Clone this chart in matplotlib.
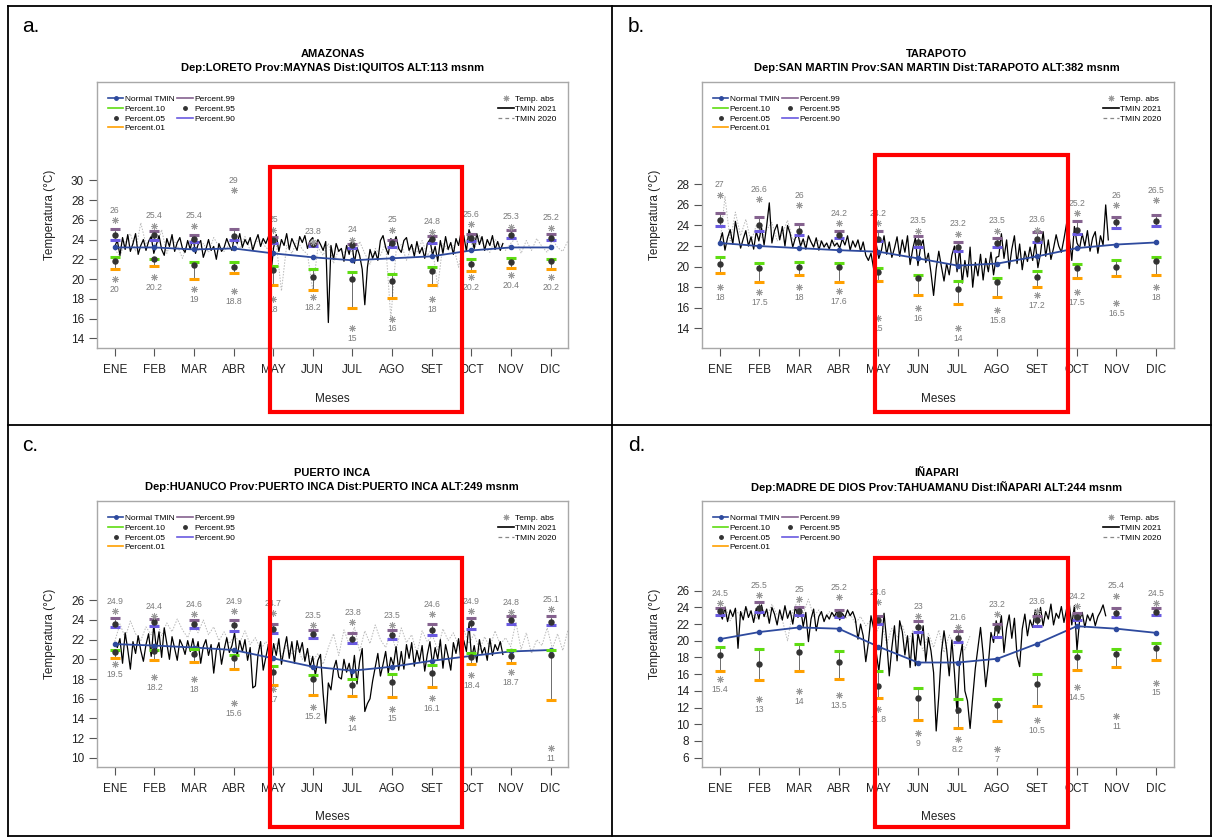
import matplotlib
matplotlib.use('Agg')
import matplotlib.pyplot as plt
from matplotlib.lines import Line2D
from matplotlib.patches import Rectangle
import numpy as np

plt.rcParams['font.family'] = ['Liberation Sans', 'DejaVu Sans']

W, H = 1213, 838
MONTHS = ['ENE', 'FEB', 'MAR', 'ABR', 'MAY', 'JUN', 'JUL', 'AGO', 'SET', 'OCT', 'NOV', 'DIC']

BLUE = '#2e4a9e'
MAUVE = '#85628f'
VIOLET = '#6a5ae0'
GREEN = '#5fdc12'
ORANGE = '#ffa000'
DOT = '#333333'
ABS = '#9a9a9a'

# ---------------- a. AMAZONAS (Iquitos) ----------------
a_normal = [23.2, 23.2, 23.0, 23.1, 22.6, 22.2, 21.9, 22.1, 22.3, 22.9, 23.2, 23.2]
a_p99 = [25.1, 24.9, 24.5, 25.1, 24.3, 23.6, 23.5, 24.0, 24.4, 24.6, 25.0, 24.6]
a_p95 = [24.5, 24.5, 24.1, 24.4, 24.0, 23.5, 23.4, 23.7, 24.05, 24.2, 24.5, 24.2]
a_p90 = [24.0, 24.0, 23.8, 24.0, 23.7, 23.3, 23.1, 23.2, 23.6, 23.9, 24.2, 24.0]
a_p10 = [22.2, 22.0, 21.7, 21.7, 21.3, 21.0, 20.7, 20.5, 21.2, 22.0, 22.1, 22.0]
a_p05 = [21.8, 22.0, 21.4, 21.2, 20.9, 20.2, 20.0, 19.8, 20.8, 21.5, 21.7, 21.8]
a_p01 = [21.0, 21.3, 20.0, 20.6, 19.4, 18.9, 17.1, 18.1, 19.4, 20.8, 21.1, 21.0]
a_absmax = [26, 25.4, 25.4, 29, 25, 23.8, 24, 25, 24.8, 25.6, 25.3, 25.2]
a_absmin = [20, 20.2, 19, 18.8, 18, 18.2, 15, 16, 18, 20.2, 20.4, 20.2]
a_tmin2021 = [
    23.3, 23.9, 22.4, 24.2, 23.0, 24.5, 22.8, 23.6, 24.6, 22.5, 23.4, 24.0, 22.9, 23.8, 24.3,
    22.6, 23.5, 24.4, 23.0, 22.4, 24.1, 23.3, 24.5, 22.8, 23.7, 24.2, 23.1, 22.7, 23.9, 23.0,
    24.3, 22.6, 23.5, 23.9, 22.2, 23.0, 24.0, 22.9, 23.3, 22.0, 23.6, 22.8, 23.2, 24.1, 23.4,
    22.9, 24.4, 23.6, 24.6, 23.2, 24.0, 23.5, 24.2, 22.9, 23.8, 24.5, 23.3, 24.1, 23.6, 24.3,
    20.6, 23.2, 24.5, 22.8, 24.0, 23.4, 24.6, 23.0, 24.1, 23.5, 22.9, 24.3, 23.7, 24.4, 23.1,
    23.9, 24.2, 23.3, 24.0, 23.5, 22.9, 23.8, 15.6, 23.4, 22.0, 23.6, 22.8, 23.1, 21.8, 23.4,
    22.5, 23.8, 21.6, 23.2, 22.4, 21.0, 17.4, 21.2, 23.0, 22.1, 22.8, 21.9, 23.9, 24.4, 23.2,
    22.5, 24.1, 23.6, 24.3, 23.1, 22.7, 23.9, 24.2, 22.9, 23.5, 22.3, 23.8, 22.6, 23.2, 22.1,
    23.6, 24.0, 22.4, 23.3, 21.8, 23.9, 22.6, 24.3, 23.0, 23.7, 22.5, 24.1, 23.4, 24.8, 24.4,
    22.8, 25.0, 24.2, 23.1, 24.6, 23.5, 24.3, 22.9, 24.0, 23.4, 24.4, 23.0, 23.8, 22.9, 23.6,
]
a_tmin2020 = [
    23.0, 22.3, 23.8, 24.6, 22.8, 25.7, 23.5, 24.4,
    23.2, 25.0, 22.6, 24.1, 23.4, 22.1, 23.8,
    24.0, 22.9, 23.6, 22.7, 24.2, 23.3, 22.8, 23.5,
    23.9, 23.1, 24.3, 22.9, 23.7, 24.0, 23.2,
    22.8, 23.6, 18.8, 23.4, 22.6, 23.9, 23.0, 22.5,
    18.9, 23.2, 22.4, 23.6, 21.6, 23.0, 22.7,
    23.4, 22.1, 23.8, 22.6, 21.5, 23.1, 22.4, 23.6,
    16.0, 22.8, 23.5, 21.9, 23.3, 22.7, 23.9, 22.4,
    23.1, 19.2, 23.6, 22.9, 23.4, 21.2, 23.8,
    24.1, 23.0, 24.4, 23.2, 22.7, 24.0, 23.5, 22.9,
    23.6, 24.2, 22.6, 23.9, 22.9, 24.1, 23.3,
    22.7, 24.0, 23.2, 22.8, 23.9, 23.4,
]

# ---------------- b. TARAPOTO ----------------
b_normal = [22.3, 22.0, 21.8, 21.6, 21.45, 20.8, 20.1, 20.3, 21.0, 21.8, 22.15, 22.35]
b_p99 = [25.2, 24.85, 24.1, 23.45, 23.45, 23.0, 22.35, 22.8, 23.35, 24.45, 24.8, 25.0]
b_p95 = [24.5, 24.0, 23.45, 23.05, 22.65, 22.4, 21.9, 22.25, 22.7, 23.55, 24.3, 24.45]
b_p90 = [23.95, 23.5, 23.05, 22.75, 22.5, 21.95, 21.5, 21.9, 22.35, 23.15, 23.8, 23.95]
b_p10 = [20.9, 20.4, 20.45, 20.4, 19.9, 19.2, 18.6, 18.9, 19.6, 20.3, 20.65, 20.95]
b_p05 = [20.25, 19.9, 20.0, 20.0, 19.5, 18.9, 17.8, 18.5, 19.0, 19.85, 20.0, 20.5]
b_p01 = [19.35, 18.5, 19.15, 18.5, 18.6, 17.25, 16.35, 17.0, 18.0, 18.9, 19.1, 19.2]
b_absmax = [27, 26.6, 26, 24.2, 24.2, 23.5, 23.2, 23.5, 23.6, 25.2, 26, 26.5]
b_absmin = [18, 17.5, 18, 17.6, 15, 16, 14, 15.8, 17.2, 17.5, 16.5, 18]
b_tmin2021 = [
    22.4, 23.3, 21.6, 22.8, 23.6, 22.2, 24.4, 23.1, 21.8, 22.7, 23.5, 22.0, 22.9, 21.7, 23.4,
    22.5, 23.8, 22.1, 24.0, 26.2, 22.3, 23.5, 24.1, 22.6, 23.9, 22.0, 24.0, 23.2, 21.9, 22.8,
    23.1, 22.0, 22.7, 21.7, 23.0, 22.4, 21.9, 22.8, 21.6, 22.5, 21.9, 22.3, 21.7, 22.6, 22.0,
    22.3, 21.8, 22.7, 22.1, 23.0, 21.6, 22.5, 21.9, 22.6, 21.5, 22.4, 21.1, 20.6, 21.3, 19.8,
    22.2, 20.8, 21.6, 23.0, 21.2, 22.4, 20.9, 21.8, 22.9, 21.0, 22.6, 21.4, 23.0, 20.2, 21.7,
    22.8, 20.1, 21.9, 22.6, 20.4, 21.3, 19.4, 17.2, 19.8, 21.5, 20.0, 18.6, 20.3, 19.2, 21.1,
    22.0, 19.5, 21.8, 18.4, 20.6, 19.0, 21.9, 18.0, 20.4, 19.1, 21.2, 18.7, 20.8, 19.5, 21.4,
    19.2, 20.9, 21.0, 23.2, 20.8, 22.6, 19.8, 21.7, 23.0, 20.3, 22.2, 19.7, 21.5, 20.5, 21.9,
    20.6, 22.4, 19.9, 21.3, 23.4, 21.0, 22.6, 20.7, 21.8, 23.1, 22.0, 21.4, 22.7, 24.2, 22.9,
    20.6, 23.9, 22.3, 21.8, 23.2, 22.0, 23.5, 21.5, 22.8, 23.4, 21.3, 23.0, 22.1, 26.0, 22.6,
]
b_tmin2020 = [
    22.0, 26.8, 22.5, 25.3, 23.0, 24.6, 22.4, 24.0,
    22.8, 23.6, 24.3, 22.5, 23.2, 24.5, 22.6,
    23.0, 22.1, 22.8, 21.9, 22.6, 22.2, 21.8, 22.5, 21.6,
]

# ---------------- c. PUERTO INCA ----------------
c_normal = [21.55, 21.4, 21.2, 20.95, 20.1, 19.25, 18.85, 19.25, 19.85, 20.35, 20.8, 20.95]
c_p99 = [24.15, 24.1, 24.0, 24.0, 23.6, 23.0, 22.65, 23.0, 23.6, 24.15, 24.45, 24.4]
c_p95 = [23.6, 23.8, 23.6, 23.5, 23.05, 22.6, 22.1, 22.5, 23.0, 23.65, 24.0, 23.8]
c_p90 = [23.25, 23.4, 23.15, 22.9, 22.65, 22.15, 21.65, 22.1, 22.5, 23.1, 23.6, 23.5]
c_p10 = [20.95, 20.95, 21.0, 20.45, 19.35, 18.4, 18.0, 18.5, 19.4, 20.6, 20.95, 20.95]
c_p05 = [20.7, 20.8, 20.5, 20.1, 18.7, 18.05, 17.4, 17.7, 18.6, 20.2, 20.35, 20.45]
c_p01 = [20.15, 19.9, 19.75, 19.0, 17.4, 16.4, 16.25, 16.15, 17.2, 19.5, 19.6, 15.85]
c_absmax = [24.9, 24.4, 24.6, 24.9, 24.7, 23.5, 23.8, 23.5, 24.6, 24.9, 24.8, 25.1]
c_absmin = [19.5, 18.2, 18, 15.6, 17, 15.2, 14, 15, 16.1, 18.4, 18.7, 11]
c_tmin2021 = [
    21.6, 21.2, 22.1, 19.6, 22.7, 21.0, 19.0, 21.8, 20.6, 22.4, 20.9, 19.8, 21.5, 22.6, 20.3,
    23.5, 21.0, 22.8, 20.2, 23.2, 21.6, 20.0, 22.3, 21.1, 19.9, 22.0, 21.4, 20.5, 21.9, 20.8,
    22.1, 20.6, 21.8, 19.6, 21.3, 22.0, 20.4, 21.5, 18.6, 20.9, 21.7, 19.5, 21.0, 22.2, 20.7,
    21.4, 22.7, 20.3, 21.9, 20.8, 22.0, 19.9, 21.2, 17.1, 17.3, 20.5, 21.8, 18.9, 20.2, 21.5,
    19.3, 21.6, 20.4, 22.1, 19.5, 21.0, 22.3, 20.1, 21.8, 19.6, 21.9, 20.7, 21.7, 19.8, 21.1,
    19.2, 20.3, 18.4, 19.9, 20.5, 16.5, 13.5, 17.6, 16.9, 19.0, 19.9, 18.2, 18.0, 20.0, 18.7,
    19.6, 18.1, 20.4, 17.5, 19.8, 21.1, 14.7, 15.5, 16.0, 17.8, 19.2, 20.6, 18.3, 19.5, 20.8,
    18.6, 20.2, 19.4, 21.3, 18.9, 20.8, 19.0, 21.5, 20.1, 21.7, 19.3, 20.9, 19.8, 21.4, 18.8,
    20.5, 21.8, 19.4, 21.2, 20.0, 22.0, 19.1, 21.5, 20.3, 18.9, 21.7, 20.6, 22.1, 19.6, 21.9,
    20.8, 23.6, 20.1, 21.4, 19.7, 22.0, 20.6, 21.2, 19.9, 22.1, 20.4, 21.5, 20.9, 21.8, 20.5,
]
c_tmin2020 = [
    21.8, 23.6, 22.2, 23.9, 22.6, 21.9, 23.3, 22.5,
    24.0, 22.4, 23.7, 22.8, 24.1, 23.0, 22.2,
    23.6, 22.7, 24.0, 22.5, 23.3, 21.9, 22.8, 21.6,
    22.4, 21.7, 22.9, 21.5, 22.2, 21.0, 21.8,
    20.9, 21.6, 20.3, 21.4, 20.5, 21.2, 20.0, 20.8,
    19.8, 20.6, 19.5, 21.2, 22.6, 20.4, 23.0,
    21.5, 23.3, 20.8, 22.9, 21.6, 23.5, 22.0, 21.2,
    22.8, 20.9, 23.2, 21.7, 22.5, 20.6, 22.9, 21.8,
    22.4, 21.0, 23.1, 21.9, 22.7, 21.4, 23.0,
    21.6, 22.6, 20.9, 22.3, 21.2, 22.9, 21.5, 22.2,
    21.3, 23.8, 21.0, 22.7, 20.6, 22.0, 21.4,
    23.2, 21.1, 22.6, 20.9, 23.0, 21.8,
]

# ---------------- d. IÑAPARI ----------------
d_normal = [20.2, 21.05, 21.6, 21.45, 19.3, 17.4, 17.4, 17.85, 19.65, 21.75, 21.45, 20.95]
d_p99 = [23.95, 24.6, 24.0, 23.7, 23.0, 22.35, 21.2, 22.0, 23.0, 23.3, 23.95, 23.95]
d_p95 = [23.55, 23.95, 23.55, 23.2, 22.5, 21.6, 20.3, 21.5, 22.55, 22.9, 23.35, 23.45]
d_p90 = [23.05, 23.4, 23.1, 22.8, 22.0, 21.0, 19.8, 20.4, 21.8, 22.5, 22.8, 23.05]
d_p10 = [19.2, 19.0, 19.6, 18.8, 16.4, 14.4, 13.0, 13.0, 16.0, 18.8, 19.0, 19.75]
d_p05 = [18.3, 17.2, 18.7, 17.5, 14.6, 13.1, 11.7, 12.3, 14.85, 18.0, 18.45, 19.1]
d_p01 = [16.4, 15.3, 16.4, 15.45, 13.2, 10.5, 9.5, 10.35, 12.15, 16.45, 16.85, 17.7]
d_absmax = [24.5, 25.5, 25, 25.2, 24.6, 23, 21.6, 23.2, 23.6, 24.2, 25.4, 24.5]
d_absmin = [15.4, 13, 14, 13.5, 11.8, 9, 8.2, 7, 10.5, 14.5, 11, 15]
d_tmin2021 = [
    23.4, 22.6, 24.0, 22.3, 23.7, 22.9, 23.9, 19.1, 23.5, 22.5, 24.1, 22.8, 23.6, 22.2, 23.9,
    22.6, 24.3, 22.9, 23.8, 22.1, 24.0, 23.2, 21.9, 23.7, 22.5, 24.2, 22.7, 23.6, 22.0, 24.1,
    22.8, 23.9, 21.7, 23.4, 19.9, 22.6, 23.8, 21.2, 22.9, 23.5, 22.3, 23.1, 22.6, 23.4, 22.9,
    23.6, 22.5, 23.3, 22.8, 23.7, 23.0, 23.5, 22.6, 20.2, 22.0, 20.6, 17.5, 19.8, 23.0, 21.5,
    18.6, 16.4, 19.4, 23.3, 20.0, 15.8, 19.2, 21.8, 17.6, 22.4, 21.1, 18.3, 20.6, 16.8, 20.9,
    17.0, 20.9, 19.5, 21.8, 17.5, 20.4, 18.8, 16.2, 9.2, 13.4, 18.6, 21.2, 19.0, 15.8, 20.1,
    16.2, 11.3, 17.8, 19.6, 14.0, 12.8, 9.5, 13.2, 16.7, 19.1, 21.6, 18.4, 14.5, 17.2, 21.0,
    19.8, 22.4, 20.9, 23.0, 18.6, 21.5, 23.1, 20.3, 22.7, 18.2, 16.9, 21.4, 23.2, 20.6, 22.5,
    21.6, 23.7, 22.1, 24.0, 21.8, 23.5, 22.6, 24.4, 21.9, 23.3, 22.7, 24.1, 22.2, 23.8, 24.5,
    21.9, 24.2, 18.9, 22.5, 23.4, 21.6, 23.1, 22.4, 23.3, 21.8, 22.9, 23.5, 24.3, 23.0,
]
d_tmin2020 = [
    23.0, 24.2, 22.4, 23.8, 22.9, 24.0, 23.3, 22.6,
    23.9, 22.8, 24.4, 23.1, 22.5, 20.0, 23.6,
    24.8, 23.2, 25.0, 22.9, 23.7, 22.4, 23.5, 22.7,
    23.4, 22.6, 23.2, 22.1, 22.9, 21.8, 22.5,
    21.0, 22.3, 19.6, 21.5, 20.4, 21.9, 19.8, 21.2,
    20.5, 18.8, 20.9, 19.2, 21.3, 18.6, 20.7,
    19.4, 21.0, 18.9, 20.6,
]

DAYS_PER_MONTH = 30.42

PANELS = [
    dict(letter='a.', letter_xy=(22, 31.7), box=(97.3, 81.7, 568.0, 348.3), ylim=(12.99, 39.98),
         yticks=range(14, 31, 2), title='AMAZONAS',
         sub='Dep:LORETO Prov:MAYNAS Dist:IQUITOS ALT:113 msnm', title_xy=(332.6, 54.3),
         red=(269.6, 166.7, 461.8, 411.7),
         data=(a_normal, a_p99, a_p95, a_p90, a_p10, a_p05, a_p01, a_absmax, a_absmin, a_tmin2021, a_tmin2020)),
    dict(letter='b.', letter_xy=(628, 31.7), box=(702.3, 81.7, 1173.5, 348.3), ylim=(12.06, 37.98),
         yticks=range(14, 29, 2), title='TARAPOTO',
         sub='Dep:SAN MARTIN Prov:SAN MARTIN Dist:TARAPOTO ALT:382 msnm', title_xy=(937, 54.3),
         red=(875.4, 155.0, 1067.7, 412.3),
         data=(b_normal, b_p99, b_p95, b_p90, b_p10, b_p05, b_p01, b_absmax, b_absmin, b_tmin2021, b_tmin2020)),
    dict(letter='c.', letter_xy=(22, 450.7), box=(97.3, 500.7, 568.0, 766.7), ylim=(9.09, 36.12),
         yticks=range(10, 27, 2), title='PUERTO INCA',
         sub='Dep:HUANUCO Prov:PUERTO INCA Dist:PUERTO INCA ALT:249 msnm', title_xy=(332, 473.3),
         red=(269.6, 557.7, 461.8, 826.7),
         data=(c_normal, c_p99, c_p95, c_p90, c_p10, c_p05, c_p01, c_absmax, c_absmin, c_tmin2021, c_tmin2020)),
    dict(letter='d.', letter_xy=(628, 450.7), box=(702.3, 500.7, 1173.5, 766.7), ylim=(4.92, 36.78),
         yticks=range(6, 27, 2), title='IÑAPARI',
         sub='Dep:MADRE DE DIOS Prov:TAHUAMANU Dist:IÑAPARI ALT:244 msnm', title_xy=(937, 473.3),
         red=(875.4, 557.7, 1067.7, 827.3),
         data=(d_normal, d_p99, d_p95, d_p90, d_p10, d_p05, d_p01, d_absmax, d_absmin, d_tmin2021, d_tmin2020)),
]


def fx(px):
    return px / W


def fy(py):
    return 1 - py / H


def draw_panel(ax, data):
    normal, p99, p95, p90, p10, p05, p01, absmax, absmin, t2021, t2020 = data
    xm = np.arange(12)
    x20 = np.arange(len(t2020)) * 4 / DAYS_PER_MONTH
    x21 = np.arange(len(t2021)) * 2 / DAYS_PER_MONTH

    ax.plot(x20, t2020, color='#b8b8b8', lw=0.7, ls=(0, (1.5, 1.5)), zorder=1)
    ax.plot(x21, t2021, color='black', lw=0.9, zorder=2)
    ax.plot(xm, normal, color=BLUE, lw=1.3, marker='o', ms=3, zorder=3)

    ax.vlines(xm, p01, p10, color='#555555', lw=0.6, zorder=4)
    ax.vlines(xm, p90, p99, color='#555555', lw=0.6, zorder=4)
    for vals, col in [(p99, MAUVE), (p90, VIOLET), (p10, GREEN), (p01, ORANGE)]:
        ax.plot(xm, vals, ls='none', marker='_', ms=6.5, mew=2.2, color=col, zorder=5)
    ax.plot(xm, p95, ls='none', marker='o', ms=3.6, color=DOT, zorder=6)
    ax.plot(xm, p05, ls='none', marker='o', ms=3.6, color=DOT, zorder=6)

    ax.plot(xm, absmax, ls='none', marker=(8, 2, 0), ms=5, mew=0.6, color=ABS, zorder=6)
    ax.plot(xm, absmin, ls='none', marker=(8, 2, 0), ms=5, mew=0.6, color=ABS, zorder=6)
    for x, v in zip(xm, absmax):
        ax.annotate(f'{v:g}', (x, v), xytext=(0, 7), textcoords='offset points',
                    ha='center', va='center', fontsize=6.2, color='#7a7a7a', zorder=7)
    for x, v in zip(xm, absmin):
        ax.annotate(f'{v:g}', (x, v), xytext=(0, -7.5), textcoords='offset points',
                    ha='center', va='center', fontsize=6.2, color='#7a7a7a', zorder=7)

    # legends
    h_left = [
        Line2D([], [], color=BLUE, lw=1.2, marker='o', ms=2.5),
        Line2D([], [], color=GREEN, lw=1.2),
        Line2D([], [], color=DOT, ls='none', marker='o', ms=2.5),
        Line2D([], [], color=ORANGE, lw=1.2),
        Line2D([], [], color=MAUVE, lw=1.2),
        Line2D([], [], color=DOT, ls='none', marker='o', ms=2.5),
        Line2D([], [], color=VIOLET, lw=1.2),
    ]
    l_left = ['Normal TMIN', 'Percent.10', 'Percent.05', 'Percent.01',
              'Percent.99', 'Percent.95', 'Percent.90']
    leg1 = ax.legend(h_left, l_left, ncol=2, loc='upper left', bbox_to_anchor=(0.022, 0.95),
                     frameon=False, fontsize=6, handlelength=1.9, handletextpad=0.15,
                     columnspacing=0.35, labelspacing=0.24, borderpad=0, borderaxespad=0)
    ax.add_artist(leg1)
    h_right = [
        Line2D([], [], color=ABS, ls='none', marker=(8, 2, 0), ms=4, mew=0.7),
        Line2D([], [], color='black', lw=1.2),
        Line2D([], [], color='#888888', lw=0.9, ls=(0, (3, 2.5))),
    ]
    ax.legend(h_right, ['Temp. abs', 'TMIN 2021', 'TMIN 2020'], loc='upper right',
              bbox_to_anchor=(0.975, 0.95), frameon=False, fontsize=6, handlelength=1.9,
              handletextpad=0.15, labelspacing=0.24, borderpad=0, borderaxespad=0)

    ax.set_xlim(-0.44, 11.44)
    ax.set_xticks(xm)
    ax.set_xticklabels(MONTHS)
    ax.tick_params(direction='out', length=5.5, width=0.8, color='#555555',
                   labelsize=8.5, labelcolor='#222222', pad=4)
    ax.tick_params(axis='x', pad=6)
    for s in ax.spines.values():
        s.set_color('#a8a8a8')
        s.set_linewidth(1.0)
    ax.set_xlabel('Meses', fontsize=8.5, labelpad=12, color='#222222')
    ax.set_ylabel('Temperatura (°C)', fontsize=8.5, labelpad=11, color='#222222')


fig = plt.figure(figsize=(W / 100, H / 100), dpi=100)

for p in PANELS:
    l, t, r, b = p['box']
    ax = fig.add_axes([fx(l), fy(b), (r - l) / W, (b - t) / H])
    draw_panel(ax, p['data'])
    ax.set_ylim(*p['ylim'])
    ax.set_yticks(list(p['yticks']))
    tx, ty = p['title_xy']
    fig.text(fx(tx), fy(ty), p['title'], ha='center', va='center', fontsize=8, fontweight='bold')
    fig.text(fx(tx), fy(ty + 13.4), p['sub'], ha='center', va='center', fontsize=8, fontweight='bold')
    lx, ly = p['letter_xy']
    fig.text(fx(lx), fy(ly), p['letter'], ha='left', va='baseline', fontsize=15)
    rl, rt, rr, rb = p['red']
    fig.add_artist(Rectangle((fx(rl), fy(rb)), (rr - rl) / W, (rb - rt) / H,
                             transform=fig.transFigure, fill=False, ec='red', lw=3, zorder=20))

# table grid
for (x0, y0, x1, y1) in [(7.8, 5.7, 1211, 5.7), (7.8, 836, 1211, 836), (7.8, 5.7, 7.8, 836),
                         (1211, 5.7, 1211, 836), (612, 5.7, 612, 836), (7.8, 424.7, 1211, 424.7)]:
    fig.add_artist(Line2D([fx(x0), fx(x1)], [fy(y0), fy(y1)], transform=fig.transFigure,
                          color='black', lw=1.3, zorder=20))

fig.savefig('out.png', dpi=100)
